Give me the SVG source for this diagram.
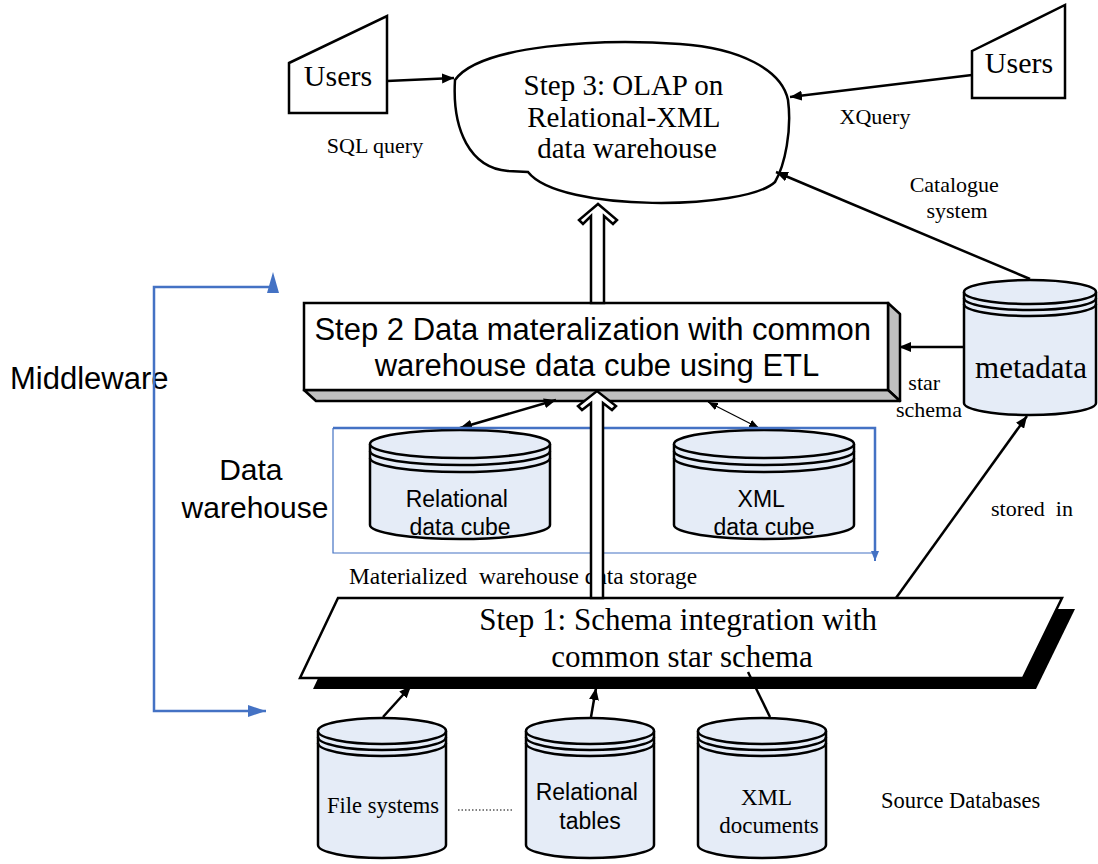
<svg xmlns="http://www.w3.org/2000/svg" width="1098" height="864" viewBox="0 0 1098 864">
  <style>
    .serif { font-family: "Liberation Serif", "Times New Roman", serif; fill: #000; }
    .sans { font-family: "Liberation Sans", Arial, sans-serif; fill: #000; }
    .ln { fill: none; stroke: #000; stroke-width: 2.5; }
    .thin { fill: none; stroke: #000; stroke-width: 1.2; }
    .db { fill: #E5ECF7; stroke: #000; stroke-width: 2.5; }
    .band { fill: none; stroke: #000; stroke-width: 2.5; }
    .blue { fill: none; stroke: #4472C4; }
    .hollow { fill: #fff; stroke: #000; stroke-width: 2.5; stroke-linejoin: miter; }
  </style>
  <defs>
    <marker id="arr" viewBox="0 0 12 10" refX="12" refY="5" markerWidth="12" markerHeight="10" markerUnits="userSpaceOnUse" orient="auto-start-reverse">
      <path d="M0,0 L12,5 L0,10 z" fill="#000"/>
    </marker>
    <marker id="arrS" viewBox="0 0 10 8" refX="10" refY="4" markerWidth="10" markerHeight="8" markerUnits="userSpaceOnUse" orient="auto-start-reverse">
      <path d="M0,0 L10,4 L0,8 z" fill="#000"/>
    </marker>
    <marker id="arrB" viewBox="0 0 18 12" refX="18" refY="6" markerWidth="18" markerHeight="12" markerUnits="userSpaceOnUse" orient="auto">
      <path d="M0,0 L18,6 L0,12 z" fill="#4472C4"/>
    </marker>
    <marker id="arrBs" viewBox="0 0 10 8" refX="10" refY="4" markerWidth="10" markerHeight="8" markerUnits="userSpaceOnUse" orient="auto">
      <path d="M0,0 L10,4 L0,8 z" fill="#4472C4"/>
    </marker>
  </defs>

  <!-- Left users -->
  <g id="users-sql">
    <polygon class="ln" points="289,63 387,16 387,113 289,113" fill="#fff"/>
    <text class="serif" x="338" y="86" font-size="30" text-anchor="middle">Users</text>
  </g>

  <!-- Right users -->
  <g id="users-xquery">
    <polygon class="ln" points="972,51 1065,5 1065,98 972,98" fill="#fff"/>
    <text class="serif" x="1019" y="73" font-size="30" text-anchor="middle">Users</text>
  </g>

  <!-- Step 3 cloud -->
  <g id="step3">
    <path class="ln" fill="#fff" d="M455,80 C480,45 600,38 680,44 C740,48 782,70 788,100 C792,130 785,165 775,182 C745,210 560,213 528,172 L508,171 C470,168 452,130 455,80 Z"/>
    <text class="serif" font-size="29" text-anchor="middle">
      <tspan x="627" y="95">Step 3: OLAP on</tspan>
      <tspan x="627" y="127">Relational-XML</tspan>
      <tspan x="627" y="158">data warehouse</tspan>
    </text>
  </g>

  <!-- Step 2 box with 3D edge -->
  <g id="step2">
    <polygon points="888,303 900,314 900,401 888,390" fill="#C0C0C0" stroke="#000" stroke-width="2.5" stroke-linejoin="round"/>
    <polygon points="304,390 888,390 900,401 316,401" fill="#C0C0C0" stroke="#000" stroke-width="2.5" stroke-linejoin="round"/>
    <rect x="304" y="303" width="584" height="87" fill="#fff" stroke="#000" stroke-width="2.5"/>
    <text class="sans" font-size="31" text-anchor="middle">
      <tspan x="597" y="340">Step 2 Data materalization with common</tspan>
      <tspan x="597" y="376">warehouse data cube using ETL</tspan>
    </text>
  </g>

  <!-- Metadata store -->
  <g id="metadata">
    <path class="db" d="M964,292 L964,403 A66,12 0 0 0 1096,403 L1096,292"/>
    <ellipse class="db" cx="1030" cy="292" rx="66" ry="12"/>
    <path class="band" d="M964,298 A66,12 0 0 0 1096,298 M964,304 A66,12 0 0 0 1096,304"/>
    <text class="serif" x="1031" y="378" font-size="31" text-anchor="middle">metadata</text>
  </g>

  <!-- Data warehouse frame -->
  <g id="data-warehouse">
    <path class="blue" stroke-width="1.2" d="M333,428 L333,553 L876,553"/>
    <text class="sans" font-size="30" text-anchor="middle">
      <tspan x="255" y="480">Data</tspan>
      <tspan x="255" y="518">warehouse</tspan>
    </text>
    <text class="serif" x="349" y="584" font-size="23.4" xml:space="preserve">Materialized  warehouse data storage</text>
  </g>

  <!-- Relational data cube -->
  <g id="relational-cube">
    <path class="db" d="M370,444 L370,525 A90,14 0 0 0 550,525 L550,444"/>
    <ellipse class="db" cx="460" cy="444" rx="90" ry="14"/>
    <path class="band" d="M370,451 A90,14 0 0 0 550,451 M370,458 A90,14 0 0 0 550,458"/>
    <text class="sans" font-size="23" text-anchor="middle">
      <tspan x="460" y="507">Relational</tspan>
      <tspan x="460" y="535">data cube</tspan>
    </text>
  </g>

  <!-- XML data cube -->
  <g id="xml-cube">
    <path class="db" d="M674,444 L674,525 A90,14 0 0 0 854,525 L854,444"/>
    <ellipse class="db" cx="764" cy="444" rx="90" ry="14"/>
    <path class="band" d="M674,451 A90,14 0 0 0 854,451 M674,458 A90,14 0 0 0 854,458"/>
    <text class="sans" font-size="23" text-anchor="middle">
      <tspan x="764" y="507">XML</tspan>
      <tspan x="764" y="535">data cube</tspan>
    </text>
  </g>

  <!-- Step 1 parallelogram with drop shadow -->
  <g id="step1">
    <polygon points="351,609 1075,609 1036,689 313,689" fill="#000"/>
    <polygon points="338,598 1062,598 1023,678 300,678" fill="#fff" stroke="#000" stroke-width="2.5"/>
    <text class="serif" font-size="31" text-anchor="middle">
      <tspan x="682" y="630">Step 1: Schema integration with</tspan>
      <tspan x="682" y="667">common star schema</tspan>
    </text>
  </g>

  <!-- Source databases -->
  <g id="file-systems">
    <path class="db" d="M318,731 L318,845 A64,13 0 0 0 446,845 L446,731"/>
    <ellipse class="db" cx="382" cy="731" rx="64" ry="13"/>
    <path class="band" d="M318,737 A64,13 0 0 0 446,737 M318,743 A64,13 0 0 0 446,743"/>
    <text class="serif" x="383" y="813" font-size="22.5" text-anchor="middle">File systems</text>
  </g>
  <g id="relational-tables">
    <path class="db" d="M526,731 L526,845 A64,13 0 0 0 654,845 L654,731"/>
    <ellipse class="db" cx="590" cy="731" rx="64" ry="13"/>
    <path class="band" d="M526,737 A64,13 0 0 0 654,737 M526,743 A64,13 0 0 0 654,743"/>
    <text class="sans" font-size="23" text-anchor="middle">
      <tspan x="590" y="800">Relational</tspan>
      <tspan x="590" y="829">tables</tspan>
    </text>
  </g>
  <g id="xml-documents">
    <path class="db" d="M698,731 L698,845 A64,13 0 0 0 826,845 L826,731"/>
    <ellipse class="db" cx="762" cy="731" rx="64" ry="13"/>
    <path class="band" d="M698,737 A64,13 0 0 0 826,737 M698,743 A64,13 0 0 0 826,743"/>
    <text class="serif" font-size="23" text-anchor="middle">
      <tspan x="769" y="805">XML</tspan>
      <tspan x="769" y="833">documents</tspan>
    </text>
  </g>
  <g id="source-label">
    <line x1="458" y1="810" x2="512" y2="810" stroke="#000" stroke-width="1" stroke-dasharray="1.5,2"/>
    <text class="serif" x="881" y="808" font-size="22.5">Source Databases</text>
  </g>

  <!-- Middleware bracket -->
  <g id="middleware">
    <text class="sans" x="10" y="389" font-size="31">Middleware</text>
    <path class="blue" stroke-width="2.5" d="M273,287 L154,287 L154,711 L250,711"/>
    <polygon points="273,272 267,293 279,293" fill="#4472C4"/>
    <line x1="248" y1="711" x2="266" y2="711" stroke="#4472C4" stroke-width="2.5" marker-end="url(#arrB)"/>
  </g>

  <!-- Connectors -->
  <g id="connectors">
    <line class="ln" x1="387" y1="81" x2="454" y2="78" marker-end="url(#arr)"/>
    <line class="ln" x1="972" y1="75" x2="790" y2="97" marker-end="url(#arr)"/>
    <line class="ln" x1="1030" y1="279" x2="776" y2="172" marker-end="url(#arr)"/>
    <line class="ln" x1="964" y1="347" x2="899" y2="347" marker-end="url(#arr)"/>
    <line class="ln" x1="896" y1="598" x2="1027" y2="416" marker-end="url(#arr)"/>
    <line class="ln" x1="460" y1="428" x2="556" y2="400" marker-start="url(#arr)" marker-end="url(#arr)"/>
    <line class="thin" x1="708" y1="402" x2="759" y2="428" marker-start="url(#arrS)" marker-end="url(#arrS)"/>
    <line class="ln" x1="383" y1="717" x2="411" y2="686" marker-end="url(#arr)"/>
    <line class="ln" x1="591" y1="717" x2="596" y2="688" marker-end="url(#arr)"/>
    <line class="ln" x1="770" y1="717" x2="748" y2="672"/>
    <!-- blue top edge of the warehouse frame, running down the right side -->
    <path class="blue" stroke-width="2.5" d="M333,428 L875,428 L875,552"/>
    <line x1="875" y1="550" x2="875" y2="561" stroke="#4472C4" stroke-width="2" marker-end="url(#arrBs)"/>
    <!-- hollow block arrows -->
    <polygon class="hollow" points="591,303 591,216 583,224 579,220 598,204 617,220 613,224 604,216 604,303"/>
    <polygon class="hollow" points="591,598 591,403 582,410 578,406 597,391 616,406 612,410 603,403 603,598"/>
  </g>

  <!-- Connector labels -->
  <g id="labels">
    <text class="serif" x="375" y="153" font-size="22" text-anchor="middle">SQL query</text>
    <text class="serif" x="875" y="124" font-size="22" text-anchor="middle">XQuery</text>
    <text class="serif" font-size="22" text-anchor="middle">
      <tspan x="957" y="192">Catalogue</tspan>
      <tspan x="957" y="218">system</tspan>
    </text>
    <text class="serif" font-size="22" text-anchor="middle">
      <tspan x="927" y="390">star</tspan>
      <tspan x="929" y="417">schema</tspan>
    </text>
    <text class="serif" x="1032" y="516" font-size="22" text-anchor="middle" xml:space="preserve">stored  in</text>
  </g>
</svg>
